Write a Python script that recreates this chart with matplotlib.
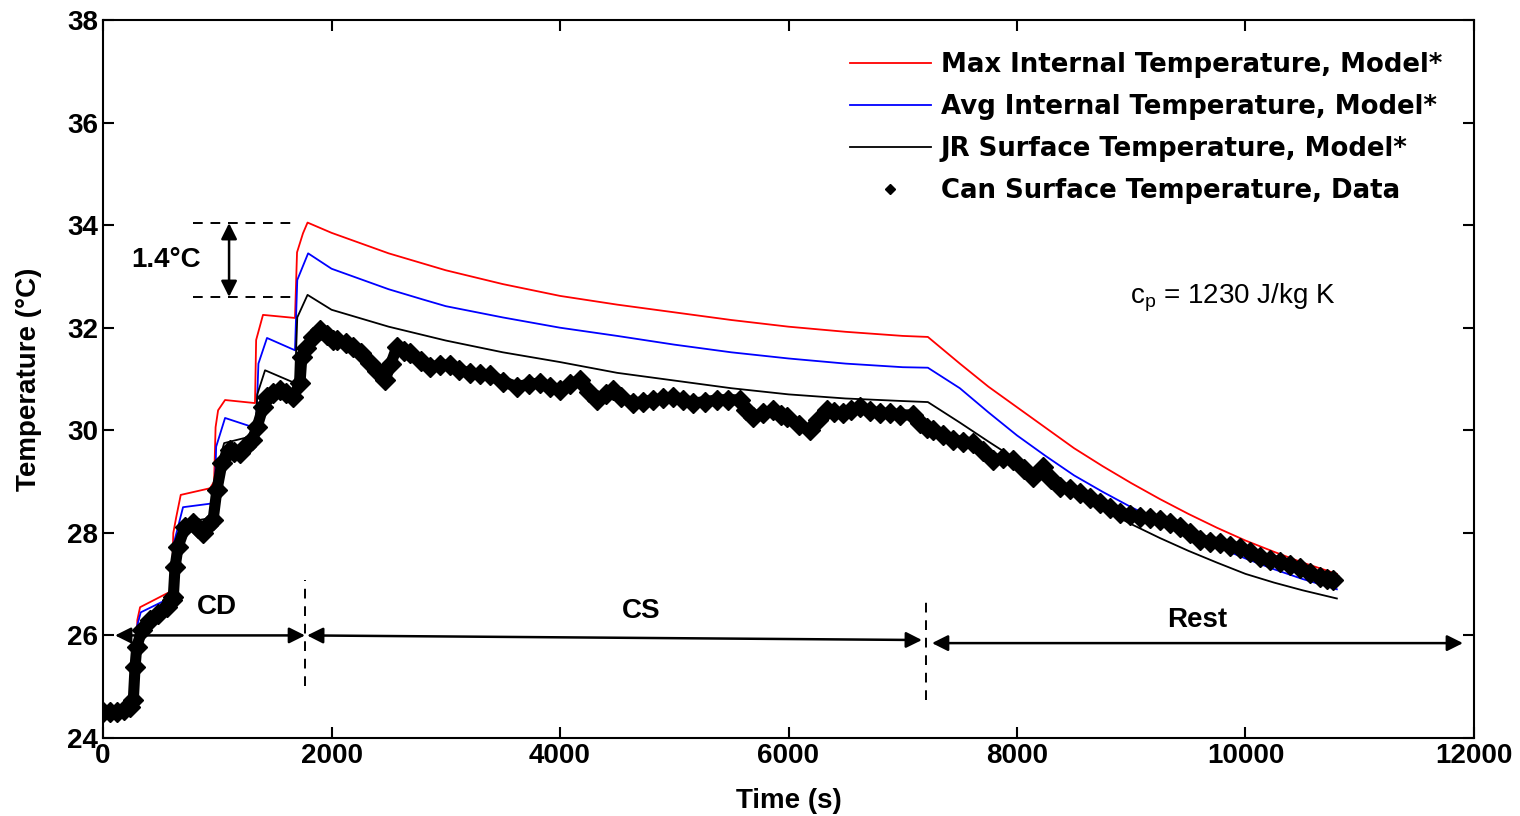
import matplotlib
matplotlib.use('Agg')
import matplotlib.pyplot as plt
from matplotlib.lines import Line2D

plt.rcParams['font.family'] = ['Liberation Sans', 'DejaVu Sans']

# model curves (time s, temperature C)
t_max = [0, 280, 300, 324, 586, 601, 615, 640, 680, 937, 972, 985, 1007, 1068, 1330, 1340, 1400, 1680,
         1698, 1750, 1790, 2000, 2500, 3000, 3500, 4000, 4500, 5000, 5500, 6000, 6500, 7000, 7220,
         7500, 7750, 8000, 8250, 8500, 8750, 9000, 9250, 9500, 9750, 10000, 10250, 10500, 10800]
T_max = [24.55, 24.6, 26.3, 26.55, 26.85, 26.9, 28.0, 28.3, 28.74, 28.87, 29.0, 30.06, 30.39, 30.59, 30.53,
         31.76, 32.25, 32.19, 33.47, 33.84, 34.05, 33.85, 33.45, 33.12, 32.85, 32.62, 32.45, 32.3, 32.15,
         32.02, 31.92, 31.84, 31.82, 31.3, 30.85, 30.45, 30.05, 29.65, 29.3, 28.97, 28.66, 28.37, 28.1,
         27.85, 27.63, 27.42, 27.2]

t_avg = [0, 280, 300, 330, 586, 601, 620, 700, 977, 990, 1068, 1313, 1340, 1360, 1435, 1680, 1700, 1795,
         2000, 2500, 2800, 3000, 3500, 4000, 4500, 5000, 5500, 6000, 6500, 7000, 7220,
         7500, 7750, 8000, 8250, 8500, 8750, 9000, 9250, 9500, 9750, 10000, 10250, 10500, 10800]
T_avg = [24.55, 24.6, 26.2, 26.45, 26.73, 26.8, 27.8, 28.5, 28.58, 29.68, 30.24, 30.06, 30.06, 31.3, 31.8,
         31.56, 32.93, 33.45, 33.15, 32.75, 32.55, 32.42, 32.2, 32.0, 31.84, 31.67, 31.52, 31.4, 31.3,
         31.23, 31.22, 30.82, 30.35, 29.9, 29.5, 29.12, 28.8, 28.5, 28.23, 27.97, 27.73, 27.5, 27.29,
         27.1, 26.9]

t_jr = [0, 280, 300, 340, 600, 620, 700, 975, 990, 1060, 1330, 1350, 1418, 1680, 1700, 1790,
        2000, 2500, 3000, 3500, 4000, 4500, 5000, 5500, 6000, 6500, 7000, 7220,
        7500, 7750, 8000, 8250, 8500, 8750, 9000, 9250, 9500, 9750, 10000, 10250, 10500, 10800]
T_jr = [24.55, 24.6, 26.0, 26.3, 26.6, 27.6, 28.2, 28.3, 29.2, 29.75, 29.9, 30.7, 31.17, 30.92, 32.2, 32.64,
        32.35, 32.02, 31.75, 31.52, 31.33, 31.12, 30.97, 30.82, 30.7, 30.62, 30.57, 30.55,
        30.15, 29.78, 29.42, 29.08, 28.76, 28.46, 28.17, 27.9, 27.65, 27.42, 27.2, 27.03, 26.88, 26.72]

# measured can surface temperature
t_can = [0, 60, 120, 180, 236, 265, 280, 295, 339, 411, 480, 557, 600, 615, 630, 657, 718, 790, 835, 875,
         920, 963, 996, 1041, 1112, 1150, 1199, 1250, 1304, 1348, 1400, 1435, 1490, 1549, 1600, 1663,
         1724, 1740, 1780, 1838, 1900, 1960, 2013, 2048, 2130, 2188, 2260, 2337, 2400, 2468, 2520, 2573,
         2630, 2687, 2780, 2862, 2950, 3037, 3120, 3212, 3300, 3387, 3500, 3623, 3725, 3825, 3910, 4000,
         4090, 4175, 4250, 4321, 4400, 4466, 4530, 4642, 4730, 4818, 4900, 4993, 5080, 5168, 5270, 5372,
         5470, 5575, 5630, 5693, 5780, 5868, 5930, 5985, 6090, 6188, 6260, 6334, 6400, 6480, 6550, 6626,
         6710, 6801, 6890, 6976, 7093, 7151, 7210, 7268, 7350, 7443, 7530, 7618, 7700, 7793, 7880, 7968,
         8060, 8143, 8231, 8300, 8377, 8460, 8552, 8640, 8727, 8815, 8902, 8990, 9077, 9165, 9252, 9340,
         9427, 9515, 9602, 9690, 9777, 9865, 9952, 10040, 10127, 10215, 10302, 10390, 10477, 10565,
         10652, 10710, 10766]
T_can = [24.5, 24.5, 24.5, 24.55, 24.6, 24.74, 25.38, 25.78, 26.1, 26.3, 26.42, 26.56, 26.7, 26.75, 27.33,
         27.73, 28.12, 28.19, 28.1, 28.0, 28.15, 28.25, 28.83, 29.36, 29.61, 29.58, 29.55, 29.7, 29.81,
         30.06, 30.45, 30.65, 30.72, 30.78, 30.72, 30.65, 30.92, 31.43, 31.6, 31.82, 31.95, 31.85, 31.76,
         31.76, 31.7, 31.63, 31.5, 31.31, 31.15, 30.98, 31.3, 31.63, 31.55, 31.5, 31.35, 31.23, 31.27,
         31.27, 31.18, 31.11, 31.1, 31.07, 30.95, 30.85, 30.9, 30.92, 30.85, 30.78, 30.9, 30.98, 30.75,
         30.59, 30.7, 30.78, 30.65, 30.53, 30.56, 30.59, 30.62, 30.65, 30.6, 30.53, 30.56, 30.59, 30.6,
         30.59, 30.4, 30.26, 30.33, 30.39, 30.3, 30.26, 30.1, 30.0, 30.2, 30.39, 30.35, 30.33, 30.4, 30.45,
         30.38, 30.33, 30.33, 30.3, 30.3, 30.14, 30.05, 30.0, 29.9, 29.81, 29.78, 29.75, 29.6, 29.42, 29.45,
         29.42, 29.25, 29.09, 29.28, 29.05, 28.9, 28.85, 28.77, 28.68, 28.58, 28.48, 28.39, 28.35, 28.31,
         28.28, 28.25, 28.2, 28.12, 28.0, 27.86, 27.83, 27.8, 27.75, 27.7, 27.62, 27.53, 27.48, 27.43,
         27.37, 27.31, 27.22, 27.14, 27.1, 27.08]

labels = ['Max Internal Temperature, Model*', 'Avg Internal Temperature, Model*',
          'JR Surface Temperature, Model*', 'Can Surface Temperature, Data']

fig = plt.figure(figsize=(15.2, 8.16), dpi=100)
ax = fig.add_axes([0.0678, 0.0956, 0.9019, 0.8799])

ax.plot(t_max, T_max, color='#ff0000', lw=1.3, zorder=3)
ax.plot(t_avg, T_avg, color='#0000ff', lw=1.3, zorder=3)
ax.plot(t_jr, T_jr, color='black', lw=1.3, zorder=3)
ax.plot(t_can, T_can, color='black', lw=8, zorder=4)
ax.plot(t_can, T_can, 'D', color='black', ms=10, zorder=4)

ax.set_xlim(0, 12000)
ax.set_ylim(24, 38)
ax.set_xticks(range(0, 12001, 2000))
ax.set_yticks(range(24, 39, 2))
ax.tick_params(direction='in', length=8, width=1.5, top=True, right=True, labelsize=20)
for lab in ax.get_xticklabels() + ax.get_yticklabels():
    lab.set_fontweight('bold')
for sp in ax.spines.values():
    sp.set_linewidth(1.5)
ax.set_xlabel('Time (s)', fontsize=20, fontweight='bold', labelpad=14)
ax.set_ylabel('Temperature (°C)', fontsize=20, fontweight='bold', labelpad=18)

# phase arrows
arw = dict(arrowstyle='<|-|>', color='black', lw=1.8, mutation_scale=24, shrinkA=0, shrinkB=0)
ax.annotate('', xy=(105, 26.0), xytext=(1768, 26.0), arrowprops=arw)
ax.annotate('', xy=(1786, 26.0), xytext=(7168, 25.91), arrowprops=arw)
ax.annotate('', xy=(7256, 25.85), xytext=(11904, 25.85), arrowprops=arw)
ax.plot([1770, 1770], [25.01, 27.08], color='black', lw=1.4, ls=(0, (5, 4)))
ax.plot([7204, 7204], [24.74, 26.75], color='black', lw=1.4, ls=(0, (5, 4)))
ax.text(998, 26.55, 'CD', fontsize=20, fontweight='bold', ha='center', va='center')
ax.text(4709, 26.48, 'CS', fontsize=20, fontweight='bold', ha='center', va='center')
ax.text(9575, 26.3, 'Rest', fontsize=20, fontweight='bold', ha='center', va='center')

# peak difference marker
ax.plot([788, 1654], [34.04, 34.04], color='black', lw=1.4, ls=(0, (5, 4)))
ax.plot([788, 1654], [32.6, 32.6], color='black', lw=1.4, ls=(0, (5, 4)))
ax.annotate('', xy=(1103, 34.04), xytext=(1103, 32.6), arrowprops=arw)
ax.text(551, 33.32, '1.4°C', fontsize=20, fontweight='bold', ha='center', va='center')

ax.text(9891, 32.58, r'c$_\mathregular{p}$ = 1230 J/kg K', fontsize=20, ha='center', va='center')

handles = [Line2D([], [], color='#ff0000', lw=1.3), Line2D([], [], color='#0000ff', lw=1.3),
           Line2D([], [], color='black', lw=1.3), Line2D([], [], color='black', ls='none', marker='D', ms=5)]
leg = ax.legend(handles, labels, loc='upper right', bbox_to_anchor=(0.994, 0.988), frameon=False,
                prop={'family': 'DejaVu Sans', 'weight': 'bold', 'size': 18.7},
                handlelength=3.1, handletextpad=0.4, labelspacing=0.62)

fig.savefig('out.png', dpi=100)
